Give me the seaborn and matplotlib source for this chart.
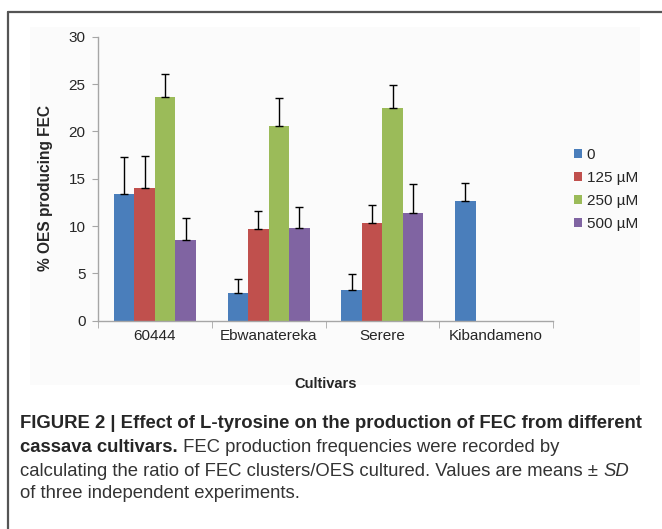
import numpy as np
import pandas as pd
import matplotlib
matplotlib.use('Agg')
import matplotlib.pyplot as plt
import seaborn as sns
from matplotlib.lines import Line2D
from matplotlib.patches import Rectangle

cultivars = ['60444', 'Ebwanatereka', 'Serere', 'Kibandameno']
concs = ['0', '125 µM', '250 µM', '500 µM']
mean_0 = [13.4, 2.9, 3.2, 12.65]
mean_125 = [14.05, 9.65, 10.35, 0]
mean_250 = [23.65, 20.6, 22.45, 0]
mean_500 = [8.5, 9.75, 11.35, 0]
sd_0 = [3.9, 1.5, 1.7, 1.9]
sd_125 = [3.3, 1.9, 1.9, np.nan]
sd_250 = [2.4, 2.9, 2.5, np.nan]
sd_500 = [2.3, 2.3, 3.1, np.nan]
colors = ['#4a7ebb', '#c0504d', '#9bbb59', '#8064a2']

means = [mean_0, mean_125, mean_250, mean_500]
sds = [sd_0, sd_125, sd_250, sd_500]
rows = []
for c, m, s in zip(concs, means, sds):
    for cv, v, e in zip(cultivars, m, s):
        rows.append({'cultivar': cv, 'conc': c, 'value': v, 'sd': e})
df = pd.DataFrame(rows)

sns.set_style('white')
plt.rcParams['font.family'] = ['Liberation Sans', 'DejaVu Sans']

fig = plt.figure(figsize=(6.62, 5.29), dpi=100)
# faint panel behind the chart + frame lines
fig.patches.append(Rectangle((30/662, 1-385/529), 610/662, 358/529, transform=fig.transFigure,
                             facecolor='#fbfbfb', edgecolor='none', zorder=-5))
fig.add_artist(Line2D([8/662, 1], [1-12/529, 1-12/529], color='#555555', lw=1.6))
fig.add_artist(Line2D([8/662, 8/662], [0, 1-12/529], color='#555555', lw=1.6))

ax = fig.add_axes([98/662, 1-320.7/529, 455/662, 284/529])
ax.set_facecolor('none')
sns.barplot(data=df, x='cultivar', y='value', hue='conc', hue_order=concs, order=cultivars,
            palette=colors, width=0.72, saturation=1, errorbar=None, linewidth=0, ax=ax)

bar_conts = list(ax.containers)
for cont, c in zip(bar_conts, concs):
    sub = df[df['conc'] == c].set_index('cultivar').loc[cultivars]
    for bar, err in zip(cont, sub['sd']):
        if np.isnan(err):
            continue
        x = bar.get_x() + bar.get_width() / 2
        ax.errorbar(x, bar.get_height(), yerr=[[0], [err]], color='black', lw=1.0,
                    capsize=3, capthick=1.0, fmt='none')

ax.set_ylim(0, 30)
ax.set_xlim(-0.5, 3.5)
ax.set_yticks([0, 5, 10, 15, 20, 25, 30])
ax.set_xticks([-0.5, 0.5, 1.5, 2.5, 3.5], minor=True)
for s in ['top', 'right']:
    ax.spines[s].set_visible(False)
for s in ['left', 'bottom']:
    ax.spines[s].set_color('#a6a6a6')
    ax.spines[s].set_linewidth(1.0)
ax.tick_params(axis='y', left=True, length=4, color='#a6a6a6', labelsize=11, pad=5)
ax.tick_params(axis='x', which='major', length=0, labelsize=11, pad=6)
ax.tick_params(axis='x', which='minor', bottom=True, length=5, color='#a6a6a6')
ax.set_xlabel('')
ax.set_ylabel('% OES producing FEC', fontweight='bold', fontsize=11.2)
ax.yaxis.set_label_coords(-0.099, 0.467)

ax.get_legend().remove()
handles = [cont.patches[0] for cont in bar_conts]
fig.legend(handles, concs, loc='upper left', bbox_to_anchor=(560/662, 1-134/529),
           frameon=False, fontsize=11, handlelength=0.55, handleheight=0.55,
           handletextpad=0.3, labelspacing=0.6)

fig.text(326/662, 1-384/529, 'Cultivars', fontweight='bold', fontsize=10.5,
         ha='center', va='center')

# caption
fs = 13.3
fig.text(20/662, 1-423/529, 'FIGURE 2 | Effect of L-tyrosine on the production of FEC from different',
         fontweight='bold', fontsize=fs, va='center')
t2 = fig.text(20/662, 1-447/529, 'cassava cultivars.', fontweight='bold', fontsize=fs, va='center')
ax.annotate(' FEC production frequencies were recorded by', xy=(1, 0), xycoords=t2,
            va='bottom', fontsize=fs, color='#333333', annotation_clip=False)
t3 = fig.text(20/662, 1-471/529, 'calculating the ratio of FEC clusters/OES cultured. Values are means \u00b1 ',
              fontsize=fs, va='center', color='#333333')
ax.annotate('SD', xy=(1, 0), xycoords=t3, va='bottom', fontsize=fs, style='italic',
            color='#333333', annotation_clip=False)
fig.text(20/662, 1-494/529, 'of three independent experiments.', fontsize=fs, va='center',
         color='#333333')

fig.savefig('out.png', dpi=100)
